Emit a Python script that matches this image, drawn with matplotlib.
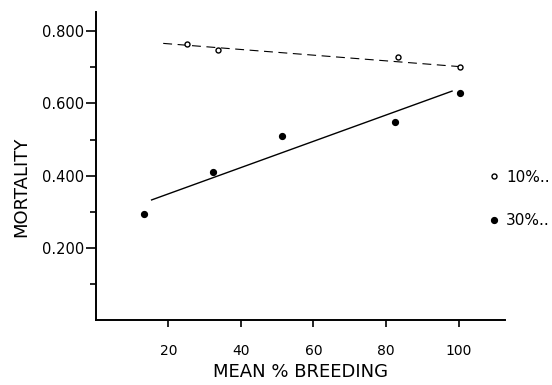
import matplotlib
matplotlib.use("Agg")

import matplotlib.pyplot as plt
from matplotlib.lines import Line2D

# 10% series (open circles, dashed fit)
x_10 = [25.1, 33.8, 83.4, 100.3]
y_10 = [0.764, 0.748, 0.728, 0.702]
fit10_x = [18.6, 100.0]
fit10_y = [0.766, 0.702]

# 30% series (filled dots, solid fit)
x_30 = [13.4, 32.2, 51.2, 82.5, 100.4]
y_30 = [0.293, 0.409, 0.510, 0.548, 0.628]
fit30_x = [15.4, 98.2]
fit30_y = [0.333, 0.634]

x_ticks = [20, 40, 60, 80, 100]
y_ticks = [0.2, 0.4, 0.6, 0.8]
y_minor = [0.1, 0.3, 0.5, 0.7]
labels = ["10%..", "30%.."]

fig = plt.figure(figsize=(5.52, 3.85), dpi=100)
ax = fig.add_axes([0.1734, 0.168, 0.7415, 0.801])

ax.plot(fit10_x, fit10_y, color="black", linewidth=0.8, dashes=(8, 5))
ax.plot(x_10, y_10, linestyle="none", marker="o", markersize=3.6,
        markerfacecolor="white", markeredgecolor="black", markeredgewidth=1.0)
ax.plot(fit30_x, fit30_y, color="black", linewidth=1.0)
ax.plot(x_30, y_30, linestyle="none", marker="o", markersize=4.2,
        color="black")

ax.set_xlim(0, 112.8)
ax.set_ylim(0, 0.853)

for side in ["top", "right"]:
    ax.spines[side].set_visible(False)
for side in ["left", "bottom"]:
    ax.spines[side].set_linewidth(1.4)

ax.set_xticks(x_ticks)
ax.set_xticklabels([str(t) for t in x_ticks])
ax.set_yticks(y_ticks)
ax.set_yticklabels([f"{t:.3f}" for t in y_ticks])
ax.set_yticks(y_minor, minor=True)
ax.tick_params(axis="x", direction="out", length=5, width=1.2,
               pad=12, labelsize=10)
ax.tick_params(axis="y", which="major", direction="out", length=7,
               width=1.2, pad=1, labelsize=10.5)
ax.tick_params(axis="y", which="minor", direction="out", length=4,
               width=1.2)

ax.set_xlabel("MEAN % BREEDING", fontsize=13, labelpad=4)
fig.text(0.038, 0.515, "MORTALITY", rotation=90, fontsize=13,
         ha="center", va="center")

handles = [
    Line2D([], [], linestyle="none", marker="o", markersize=3.6,
           markerfacecolor="white", markeredgecolor="black",
           markeredgewidth=1.0),
    Line2D([], [], linestyle="none", marker="o", markersize=4.2,
           color="black"),
]
leg = fig.legend(handles, labels, loc="upper left",
                 bbox_to_anchor=(0.875, 0.575), frameon=False,
                 fontsize=11, handlelength=0.6, handletextpad=0.5,
                 labelspacing=1.85, borderaxespad=0)

fig.savefig("out.png", dpi=100)
